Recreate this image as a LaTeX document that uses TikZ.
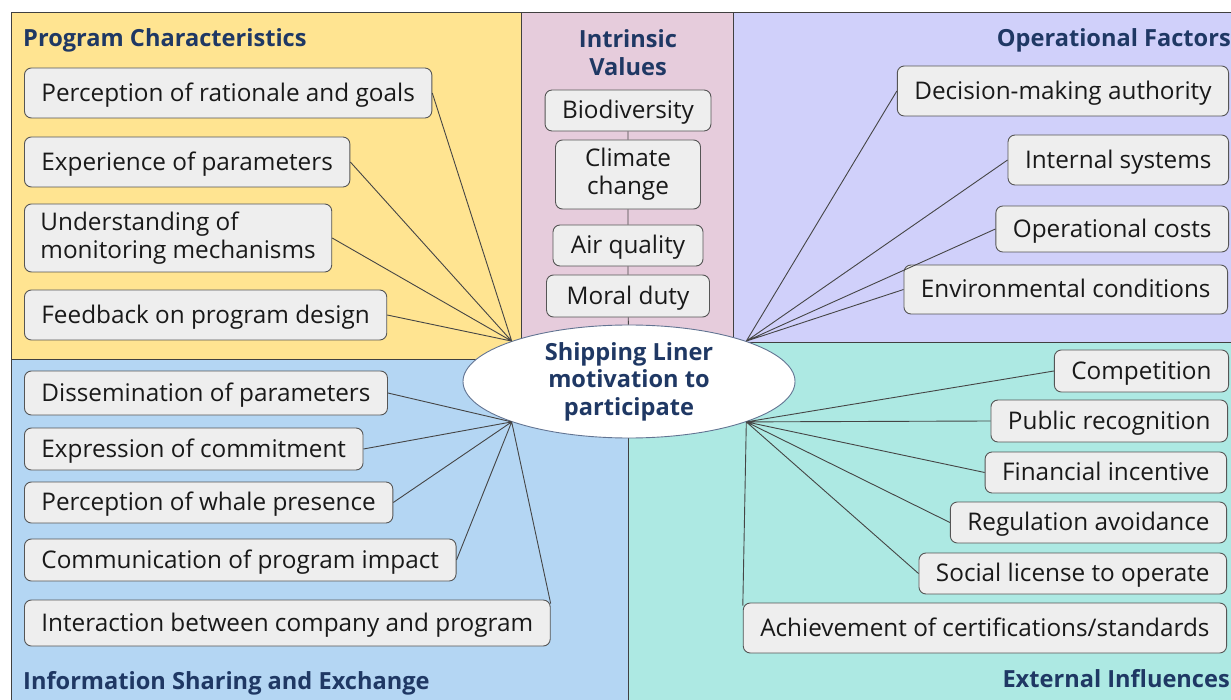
\documentclass[tikz,border=0pt]{standalone}
\usepackage{fontspec}
\setmainfont{Open Sans}
\usetikzlibrary{positioning,shapes.geometric}
\definecolor{charyellow}{HTML}{FFE491}
\definecolor{valuepink}{HTML}{E6CCDC}
\definecolor{opslilac}{HTML}{D0D0FA}
\definecolor{infoblue}{HTML}{B4D6F3}
\definecolor{extteal}{HTML}{ADE9E3}
\definecolor{headnavy}{HTML}{1F3864}
\definecolor{boxfill}{HTML}{EEEEEE}
\definecolor{boxline}{HTML}{555555}
\definecolor{wiregray}{HTML}{454545}
\tikzset{factor/.style={draw=boxline,fill=boxfill,rounded corners=7pt,line width=0.9pt,
           inner xsep=17pt,inner ysep=0pt,minimum height=42pt,text=black!90,
           font=\fontsize{24.3}{28}\selectfont},
         oneline/.style={factor,text height=19.5pt,text depth=3pt},
         head/.style={inner sep=0pt,text=headnavy,font=\fontsize{23.6}{28}\selectfont\bfseries},
         area/.style={draw=black!75,line width=0.9pt},
         wire/.style={draw=wiregray,line width=0.9pt}
         }

\begin{document}
\begin{tikzpicture}[x=1pt,y=-1pt] % motivation map
        \useasboundingbox (0,0) rectangle (1231,700);
        \clip (0,0) rectangle (1231,700);
        % areas
        \draw[area,fill=extteal] (628,342) rectangle (1240,710);
        \draw[area,fill=infoblue] (11,359) rectangle (628,710);
        \draw[area,fill=charyellow] (11,12) rectangle (521,359);
        \draw[area,fill=valuepink] (521,12) rectangle (733,350);
        \draw[area,fill=opslilac] (733,12) rectangle (1240,342);
        % headings
        \node[head,anchor=base west] (pchead) at (23,47) {Program Characteristics};
        \node[head,align=center] (ivhead) at (628,53) {Intrinsic\\Values};
        \node[head,anchor=base east] (ofhead) at (1231,47) {Operational Factors};
        \node[head,anchor=base west] (ishead) at (23,689) {Information Sharing and Exchange};
        \node[head,anchor=base east] (eihead) at (1230,687) {External Influences};
        % centre
        \node[ellipse,draw=headnavy!70,fill=white,line width=0.9pt,minimum width=332pt,
              minimum height=113pt,inner sep=0pt] (core) at (629,381.5) {};
        \node[head,align=center,font=\fontsize{23.6}{27.5}\selectfont\bfseries] (coretext) at (core) {Shipping Liner\\motivation to\\participate};
        % program characteristics
        \node[oneline,anchor=west,minimum height=50pt] (pc1) at (24,93) {Perception of rationale and goals};
        \node[oneline,anchor=west,minimum height=50pt] (pc2) at (24,162) {Experience of parameters};
        \node[factor,anchor=west,minimum height=68pt,align=left,inner xsep=16pt] (pc3) at (24,238) {Understanding of\\monitoring mechanisms};
        \node[oneline,anchor=west,minimum height=50pt] (pc4) at (24,315) {Feedback on program design};
        % intrinsic values
        \node[oneline,minimum width=163pt,minimum height=41pt] (iv1) at (628,110.5) {Biodiversity};
        \node[factor,minimum width=145pt,minimum height=69pt,align=center] (iv2) at (628,174.5) {Climate\\change};
        \node[oneline,minimum width=150pt,minimum height=41pt] (iv3) at (628,245.5) {Air quality};
        \node[oneline,minimum width=163pt,minimum height=42pt] (iv4) at (628,296) {Moral duty};
        % operational factors
        \node[oneline,anchor=east,minimum height=50pt] (of1) at (1229,91) {Decision-making authority};
        \node[oneline,anchor=east,minimum height=50pt] (of2) at (1229,160) {Internal systems};
        \node[oneline,anchor=east,minimum height=46pt] (of3) at (1229,229) {Operational costs};
        \node[oneline,anchor=east,minimum height=49pt] (of4) at (1228,289.5) {Environmental conditions};
        % information sharing and exchange
        \node[oneline,anchor=west,minimum height=44pt] (is1) at (24,393) {Dissemination of parameters};
        \node[oneline,anchor=west] (is2) at (24,449) {Expression of commitment};
        \node[oneline,anchor=west,minimum height=41pt] (is3) at (24,502.5) {Perception of whale presence};
        \node[oneline,anchor=west] (is4) at (24,560) {Communication of program impact};
        \node[oneline,anchor=west,minimum height=46pt] (is5) at (24,623) {Interaction between company and program};
        % external influences
        \node[oneline,anchor=east] (ei1) at (1229,371) {Competition};
        \node[oneline,anchor=east] (ei2) at (1228,421) {Public recognition};
        \node[oneline,anchor=east,minimum height=41pt] (ei3) at (1227,472.5) {Financial incentive};
        \node[oneline,anchor=east,minimum height=41pt] (ei4) at (1227,522.5) {Regulation avoidance};
        \node[oneline,anchor=east,minimum height=41pt] (ei5) at (1227,573.5) {Social license to operate};
        \node[oneline,anchor=east,minimum height=50pt] (ei6) at (1227,628) {Achievement of certifications/standards};
        % links
        \draw[wire] (iv1) to (iv2) to (iv3) to (iv4) to (core);
        \draw[wire] (core.161) to (pc1.east) (core.161) to (pc2.east)
                    (core.161) to (pc3.east) (core.161) to (pc4.east);
        \draw[wire] (core.19) to (of1.west) (core.19) to (of2.west)
                    (core.19) to (of3.west) (core.19) to (of4.west);
        \draw[wire] (core.199) to (is1.east) (core.199) to (is2.east) (core.199) to (is3.east)
                    (core.199) to (is4.east) (core.199) to ([yshift=-4pt]is5.north east);
        \draw[wire] (core.341) to (ei1.west) (core.341) to (ei2.west) (core.341) to (ei3.west)
                    (core.341) to (ei4.west) (core.341) to (ei5.west)
                    (core.341) to ([yshift=-3pt]ei6.north west);
\end{tikzpicture}
\end{document}
